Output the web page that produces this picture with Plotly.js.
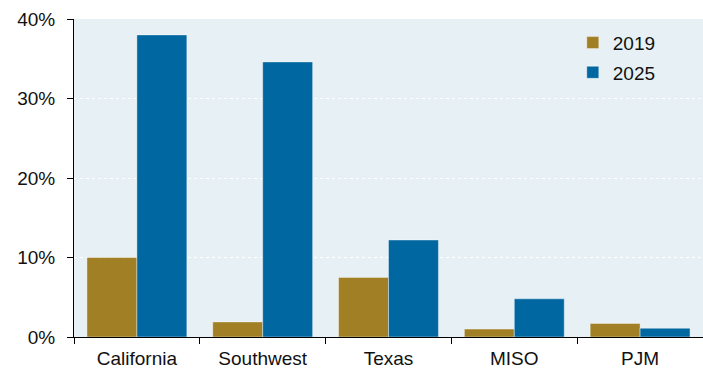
<!DOCTYPE html>
<html>
<head>
<meta charset="utf-8">
<script src="https://cdn.plot.ly/plotly-3.0.1.min.js"></script>
<style>html,body{margin:0;padding:0;background:#fff;}#chart{width:703px;height:373px;}</style>
</head>
<body>
<div id="chart"></div>
<script>
const categories = ["California", "Southwest", "Texas", "MISO", "PJM"];
const values2019 = [10.0, 1.9, 7.5, 1.0, 1.7];
const values2025 = [38.0, 34.6, 12.2, 4.8, 1.1];
const yTickVals = [0, 10, 20, 30, 40];
const yTickText = ["0%", "10%", "20%", "30%", "40%"];

const gold = "rgb(160,127,37)";
const blue = "rgb(0,103,161)";

const traces = [
  {type: "bar", name: "2019", x: categories, y: values2019, legendgroup: "a",
   marker: {color: gold, line: {color: "rgba(255,255,255,0.5)", width: 0.8}}},
  {type: "bar", name: "2025", x: categories, y: values2025, legendgroup: "b",
   marker: {color: blue, line: {color: "rgba(255,255,255,0.5)", width: 0.8}}}
];

const layout = {
  width: 703, height: 373,
  margin: {l: 74, r: 0, t: 19, b: 36},
  paper_bgcolor: "#ffffff",
  plot_bgcolor: "rgb(231,240,244)",
  font: {family: "Liberation Sans, Arial, sans-serif", size: 19, color: "#111"},
  barmode: "group",
  bargap: 0.206,
  bargroupgap: 0,
  showlegend: true,
  legend: {x: 0.793, y: 0.985, xanchor: "left", yanchor: "top", bgcolor: "rgba(0,0,0,0)",
           font: {size: 19}, tracegroupgap: 2, itemwidth: 30},
  xaxis: {
    type: "category", showline: true, linecolor: "#000", linewidth: 1,
    ticks: "outside", tickson: "boundaries", ticklen: 6, tickcolor: "#000",
    ticklabelstandoff: 4,
    showgrid: false, zeroline: false, fixedrange: true
  },
  yaxis: {
    range: [0, 40], tickvals: yTickVals, ticktext: yTickText,
    showline: true, linecolor: "#000", linewidth: 1,
    ticks: "outside", ticklen: 6, tickcolor: "#000",
    ticklabelstandoff: 8,
    showgrid: true, gridcolor: "#ffffff", griddash: "dot", gridwidth: 1,
    zeroline: false, fixedrange: true
  }
};

Plotly.newPlot("chart", traces, layout, {displayModeBar: false, staticPlot: true});
</script>
</body>
</html>
